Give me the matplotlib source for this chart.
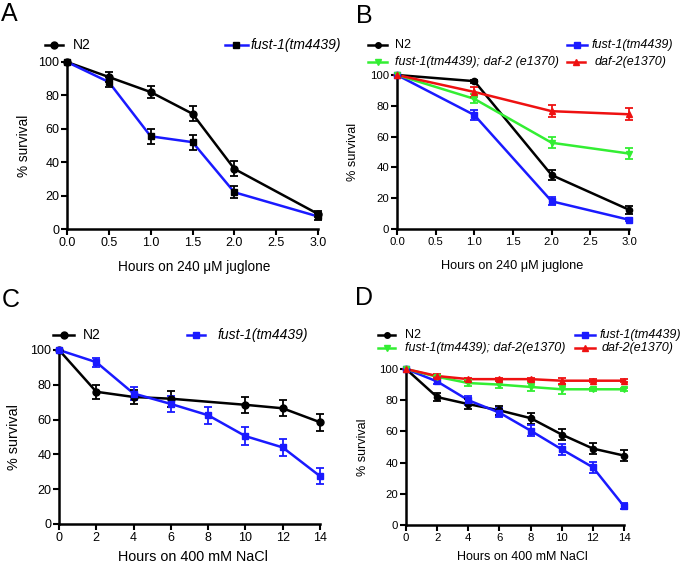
import matplotlib
matplotlib.use("Agg")
import matplotlib.pyplot as plt
from matplotlib.lines import Line2D

plt.rcParams['font.family'] = ['Liberation Sans', 'DejaVu Sans']

# ---------------- data ----------------
# Panel A
a_x_n2 = [0, 0.5, 1.0, 1.5, 2.0, 3.0]
a_n2 = [100, 91, 82, 69, 36, 9]
a_n2_err = [0, 3, 3.5, 4.5, 4.5, 2]
a_x_f = [0, 0.5, 1.0, 1.5, 2.0, 3.0]
a_f = [100, 88, 55.5, 52, 22, 7.5]
a_f_err = [0, 3, 4.5, 4.5, 3.5, 2]
a_xticks = [0.0, 0.5, 1.0, 1.5, 2.0, 2.5, 3.0]

# Panel B
b_x = [0, 1, 2, 3]
b_n2 = [100, 96, 35, 12.5]
b_n2_err = [0, 1, 3, 2.5]
b_f = [100, 74, 18, 6]
b_f_err = [0, 3, 2.5, 1]
b_fd = [100, 84.5, 56, 49]
b_fd_err = [0, 3, 3.5, 3.5]
b_d = [100, 89, 76.5, 74.5]
b_d_err = [0, 3, 4, 4]
b_xticks = [0.0, 0.5, 1.0, 1.5, 2.0, 2.5, 3.0]

# Panel C
c_x_n2 = [0, 2, 4, 6, 10, 12, 14]
c_n2 = [100, 76, 73, 72, 68.5, 66.5, 58.5]
c_n2_err = [0, 4, 4, 4.5, 4.5, 4.5, 5]
c_x_f = [0, 2, 4, 6, 8, 10, 12, 14]
c_f = [100, 93, 75, 69, 62.5, 50.5, 44, 27.5]
c_f_err = [0, 2.5, 4, 4.5, 5, 5, 5, 4.5]
c_xticks = [0, 2, 4, 6, 8, 10, 12, 14]

# Panel D
d_x = [0, 2, 4, 6, 8, 10, 12, 14]
d_n2 = [100, 82, 77.5, 73.5, 68.5, 58, 49, 44.5]
d_n2_err = [0, 2.5, 3, 3, 3.5, 3.5, 3.5, 3.5]
d_f = [100, 92, 80, 72, 60.5, 48.5, 37, 12]
d_f_err = [0, 1.5, 3, 3, 3.5, 3.5, 3.5, 2]
d_fd = [100, 95, 91, 90, 88.5, 87, 87, 87]
d_fd_err = [0, 1, 2, 2.5, 2.5, 3, 1, 1]
d_d = [100, 95.5, 93.5, 93.5, 93.5, 92.5, 92.5, 92.5]
d_d_err = [0, 1, 1, 1, 1, 2, 1, 1]

yticks = [0, 20, 40, 60, 80, 100]

BLACK = '#000000'
BLUE = '#1a1aff'
GREEN = '#33ee33'
RED = '#ee1111'

fig = plt.figure(figsize=(6.85, 5.68), dpi=100)

W, H = 685.0, 568.0

def fx(px):
    return px / W

def fy(py):
    return 1 - py / H

def make_ax(rect, xlim, xticks, xlabel, xticklabels, tsize, lsize, ylab_x, xlab_y):
    ax = fig.add_axes(rect)
    ax.set_xlim(*xlim)
    ax.set_ylim(0, 100)
    ax.set_xticks(xticks)
    ax.set_xticklabels(xticklabels)
    ax.set_yticks(yticks)
    for s in ['top', 'right']:
        ax.spines[s].set_visible(False)
    for s in ['left', 'bottom']:
        ax.spines[s].set_linewidth(1.8)
    ax.tick_params(width=1.5, length=4, labelsize=tsize, pad=1.5, direction='out')
    ax.set_xlabel(xlabel, fontsize=lsize)
    ax.set_ylabel('% survival', fontsize=lsize)
    ax.xaxis.set_label_coords(0.5, 0, transform=None)
    ax.xaxis.label.set_transform(fig.transFigure)
    ax.xaxis.label.set_position((0.5, 0.5))
    return ax

def place_labels(ax, xlab_cx, xlab_cy, ylab_cx, ylab_cy):
    ax.xaxis.label.set_visible(False)
    ax.yaxis.label.set_visible(False)
    fig.text(fx(xlab_cx), fy(xlab_cy), ax.get_xlabel(), ha='center', va='center',
             fontsize=ax.xaxis.label.get_fontsize())
    fig.text(fx(ylab_cx), fy(ylab_cy), ax.get_ylabel(), ha='center', va='center',
             rotation=90, fontsize=ax.yaxis.label.get_fontsize())

def series(ax, x, y, err, color, marker, mcolor=None, ms=5):
    mc = mcolor if mcolor else color
    ax.plot(x, y, color=color, lw=1.8, zorder=3, clip_on=False)
    ax.errorbar(x, y, yerr=err, fmt='none', ecolor=mc, elinewidth=1.3,
                capsize=3, capthick=1.3, zorder=4, clip_on=False)
    ax.plot(x, y, linestyle='none', marker=marker, color=mc, ms=ms,
            zorder=5, clip_on=False)

def legend_item(x0, x1, tx, y, color, marker, text, italic, size, mcolor=None, ms=5):
    mc = mcolor if mcolor else color
    fig.add_artist(Line2D([fx(x0), fx(x1)], [fy(y), fy(y)], color=color, lw=1.8,
                          transform=fig.transFigure))
    fig.add_artist(Line2D([fx((x0 + x1) / 2)], [fy(y)], color=mc, marker=marker, ms=ms,
                          linestyle='none', transform=fig.transFigure))
    fig.text(fx(tx), fy(y), text, fontsize=size, va='center', ha='left',
             style='italic' if italic else 'normal')

# Panel A
axA = make_ax([fx(67), fy(229), fx(318) - fx(67), fy(62) - fy(229)], (0, 3), a_xticks,
              'Hours on 240 \u03bcM juglone', ['%.1f' % v for v in a_xticks], 9, 9.8, 0, 0)
series(axA, a_x_n2, a_n2, a_n2_err, BLACK, 'o')
series(axA, a_x_f, a_f, a_f_err, BLUE, 's', mcolor=BLACK)
place_labels(axA, 194, 267, 24, 146)
legend_item(45, 63, 73, 45, BLACK, 'o', 'N2', False, 10)
legend_item(225, 248, 251, 45, BLUE, 's', 'fust-1(tm4439)', True, 10, mcolor=BLACK)

# Panel B
axB = make_ax([fx(397), fy(229), fx(629) - fx(397), fy(75) - fy(229)], (0, 3), b_xticks,
              'Hours on 240 \u03bcM juglone', ['%.1f' % v for v in b_xticks], 8.2, 9.2, 0, 0)
series(axB, b_x, b_n2, b_n2_err, BLACK, 'o', ms=4.5)
series(axB, b_x, b_f, b_f_err, BLUE, 's', ms=4.5)
series(axB, b_x, b_fd, b_fd_err, GREEN, 'v', ms=4.5)
series(axB, b_x, b_d, b_d_err, RED, '^', ms=4.5)
place_labels(axB, 512, 266, 353, 152)
legend_item(368, 387, 395, 45, BLACK, 'o', 'N2', False, 9, ms=4)
legend_item(567, 587, 592, 45, BLUE, 's', 'fust-1(tm4439)', True, 9, ms=4)
legend_item(368, 387, 395, 62, GREEN, 'v', 'fust-1(tm4439); daf-2 (e1370)', True, 9, ms=4)
legend_item(567, 585, 595, 62, RED, '^', 'daf-2(e1370)', True, 9, ms=4)

# Panel C
axC = make_ax([fx(59), fy(524), fx(320) - fx(59), fy(350) - fy(524)], (0, 14), c_xticks,
              'Hours on 400 mM NaCl', [str(v) for v in c_xticks], 9, 10.4, 0, 0)
series(axC, c_x_n2, c_n2, c_n2_err, BLACK, 'o')
series(axC, c_x_f, c_f, c_f_err, BLUE, 's')
place_labels(axC, 193, 557, 14, 437)
legend_item(53, 74, 83, 335, BLACK, 'o', 'N2', False, 10)
legend_item(187, 205, 218, 335, BLUE, 's', 'fust-1(tm4439)', True, 10)

# Panel D
axD = make_ax([fx(406), fy(525), fx(624) - fx(406), fy(369) - fy(525)], (0, 14), c_xticks,
              'Hours on 400 mM NaCl', [str(v) for v in c_xticks], 8.2, 9, 0, 0)
series(axD, d_x, d_n2, d_n2_err, BLACK, 'o', ms=4.5)
series(axD, d_x, d_f, d_f_err, BLUE, 's', ms=4.5)
series(axD, d_x, d_fd, d_fd_err, GREEN, 'v', ms=4.5)
series(axD, d_x, d_d, d_d_err, RED, '^', ms=4.5)
place_labels(axD, 522, 557, 363, 447)
legend_item(378, 395, 405, 335, BLACK, 'o', 'N2', False, 9, ms=4)
legend_item(575, 595, 600, 335, BLUE, 's', 'fust-1(tm4439)', True, 9, ms=4)
legend_item(378, 395, 405, 348, GREEN, 'v', 'fust-1(tm4439); daf-2(e1370)', True, 9, ms=4)
legend_item(575, 595, 602, 348, RED, '^', 'daf-2(e1370)', True, 9, ms=4)

# Panel letters
for lx, ly, letter in [(1, 21, 'A'), (356, 23, 'B'), (2, 307, 'C'), (355, 305, 'D')]:
    fig.text(fx(lx), fy(ly), letter, fontsize=18, va='baseline', ha='left')

fig.savefig('out.png', dpi=100)
